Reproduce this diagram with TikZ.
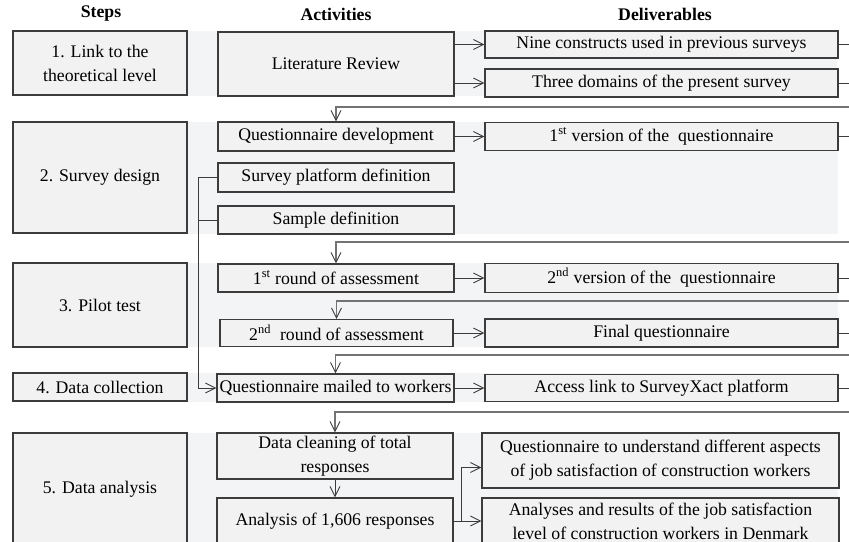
\documentclass[tikz,border=0pt]{standalone}
\usepackage{fontspec}
\setmainfont{Liberation Serif}
\usepackage{tikz}
\usetikzlibrary{arrows.meta,calc}
\definecolor{bandgray}{RGB}{243,244,246}
\definecolor{boxgray}{RGB}{242,242,242}
\definecolor{linegray}{RGB}{60,60,60}
\newlength\pxu
\setlength\pxu{0.75pt}
\begin{document}
\begin{tikzpicture}[
			x=0.75pt,y=-0.75pt,
			font=\fontsize{13.3pt}{18pt}\selectfont,
			stepbox/.style={rectangle,draw=linegray,fill=boxgray,align=center,inner sep=0pt,line width=0.8pt,minimum width=174\pxu},
			actbox/.style={rectangle,draw=linegray,fill=boxgray,align=center,inner sep=0pt,line width=0.8pt,minimum width=236\pxu},
			delbox/.style={rectangle,draw=linegray,fill=boxgray,align=center,inner sep=0pt,line width=0.8pt,minimum width=353\pxu},
			arr/.style={draw=linegray,line width=0.7pt,-{Straight Barb[length=7.5pt,width=7.5pt]}},
			stub/.style={draw=linegray,line width=0.7pt},
			back/.style={draw=black!55,line width=1.1pt,-{Straight Barb[length=7.5pt,width=7.5pt,line width=0.7pt,color=linegray]}},
			]
			\useasboundingbox (0,0) rectangle (849,542);
			\clip (0,0) rectangle (849,542);
			\fill [bandgray] (13,31) rectangle (837,96);
			\fill [bandgray] (13,122) rectangle (838,234);
			\fill [bandgray] (13,263) rectangle (838,347);
			\fill [bandgray] (13,373) rectangle (838,402);
			\fill [bandgray] (13,433) rectangle (838,560);
			\node [font=\fontsize{13.3pt}{18pt}\selectfont\bfseries] (hsteps) at (101,14) {Steps};
			\node [font=\fontsize{13.3pt}{18pt}\selectfont\bfseries] (hact) at (336,14) {Activities};
			\node [font=\fontsize{13.3pt}{18pt}\selectfont\bfseries] (hdel) at (665,14) {Deliverables};
			\node [stepbox,minimum height=64\pxu] (s1) at (100,63) {1. Link to the\\theoretical level};
			\node [stepbox,minimum height=111\pxu] (s2) at (100,177.5) {2. Survey design};
			\node [stepbox,minimum height=84\pxu] (s3) at (100,305) {3. Pilot test};
			\node [stepbox,minimum height=28\pxu] (s4) at (100,387) {4. Data collection};
			\node [stepbox,minimum height=112\pxu] (s5) at (100,489) {5. Data analysis};
			\node [actbox,minimum height=64\pxu] (a1) at (336,64) {Literature Review};
			\node [actbox,minimum height=29\pxu] (a2) at (336,136.5) {Questionnaire development};
			\node [actbox,minimum height=29\pxu] (a3) at (336,177.5) {Survey platform definition};
			\node [actbox,minimum height=28\pxu] (a4) at (336,220) {Sample definition};
			\node [actbox,minimum height=28\pxu] (a5) at (336,278) {1\textsuperscript{st} round of assessment};
			\node [actbox,minimum height=27\pxu,minimum width=233\pxu] (a6) at (336.5,333) {2\textsuperscript{nd}~ round of assessment};
			\node [actbox,minimum height=28\pxu,minimum width=237\pxu] (a7) at (335.5,388) {Questionnaire mailed to workers};
			\node [actbox,minimum height=46\pxu] (a8) at (335,456) {Data cleaning of total\\responses};
			\node [actbox,minimum height=46\pxu] (a9) at (335,521) {Analysis of 1,606 responses};
			\node [delbox,minimum height=27\pxu] (d1) at (661.5,44.5) {Nine constructs used in previous surveys};
			\node [delbox,minimum height=28\pxu] (d2) at (661.5,83) {Three domains of the present survey};
			\node [delbox,minimum height=28\pxu] (d3) at (661.5,136.5) {1\textsuperscript{st} version of the~ questionnaire};
			\node [delbox,minimum height=29\pxu] (d4) at (661.5,278) {2\textsuperscript{nd} version of the~ questionnaire};
			\node [delbox,minimum height=28\pxu] (d5) at (661.5,333) {Final questionnaire};
			\node [delbox,minimum height=27\pxu] (d6) at (661.5,388) {Access link to SurveyXact platform};
			\node [delbox,minimum height=55\pxu,minimum width=357\pxu] (d7) at (660.5,460.5) {Questionnaire to understand different aspects\\of job satisfaction of construction workers};
			\node [delbox,minimum height=46\pxu,minimum width=357\pxu] (d8) at (660.5,521) {Analyses and results of the job satisfaction\\level of construction workers in Denmark};
			\coordinate (re) at (849,0);
			\coordinate (r1) at (849,107);
			\coordinate (r2) at (849,242);
			\coordinate (r3) at (849,301);
			\coordinate (r4) at (849,355);
			\coordinate (r5) at (849,412);
			\path [arr] (a1.east |- d1) -- (d1.west);
			\path [arr] (a1.east |- d2) -- (d2.west);
			\path [arr] (a2) -- (d3);
			\path [arr] (a5) -- (d4);
			\path [arr] (a6) -- (d5);
			\path [arr] (a7) -- (d6);
			\path [arr] (a9) -- (d8);
			\path [arr] (a9.east) -- ++(8,0) |- ($(d7.west)+(0,7)$);
			\path [arr] (a8) -- (a9);
			\path [arr] (a3.west) -- ++(-19,0) |- (a7.west);
			\path [stub] (a4.west) -- ++(-19,0);
			\foreach \n in {d1,d2,d3,d4,d5,d6}
				\path [stub] (\n.east) -- (\n.east -| re);
			\path [back] (r1) -| (a2.north);
			\path [back] (r2) -| (a5.north);
			\path [back] (r3) -| (a6.north);
			\path [back] (r4) -| (a7.north);
			\path [back] (r5) -| (a8.north);
		\end{tikzpicture}
\end{document}
